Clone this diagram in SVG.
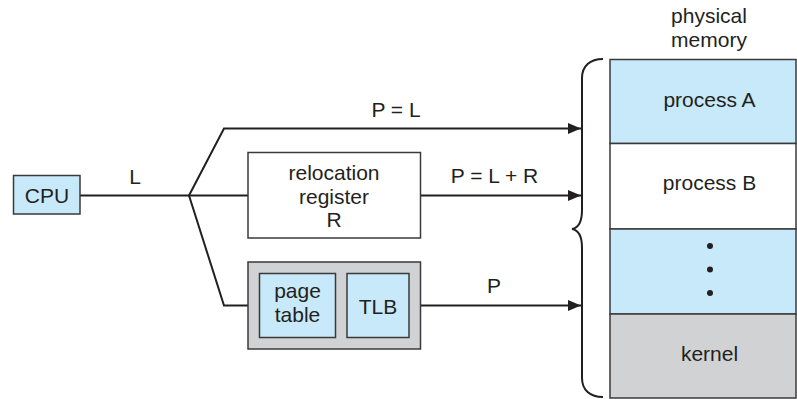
<svg xmlns="http://www.w3.org/2000/svg" width="797" height="399" viewBox="0 0 797 399">
<defs>
<style>
text{font-family:"Liberation Sans",Arial,Helvetica,sans-serif;font-size:21px;fill:#231f20;text-anchor:middle}
.blue{fill:#c7e9f9;stroke:#3a3a3a;stroke-width:1.5}
.gray{fill:#d1d2d4;stroke:#3a3a3a;stroke-width:1.5}
.white{fill:#fff;stroke:#3a3a3a;stroke-width:1.5}
.ln{fill:none;stroke:#231f20;stroke-width:2}
</style>
<marker id="ah" markerWidth="13" markerHeight="11" refX="13" refY="5.5" orient="auto" markerUnits="userSpaceOnUse">
<path d="M0,0 L13,5.5 L0,11 Z" fill="#231f20"/>
</marker>
</defs>
<g id="connectors">
<path class="ln" d="M80,195.5 H189"/>
<path class="ln" d="M189,195.5 L224,128.5 H581" marker-end="url(#ah)"/>
<path class="ln" d="M189,195.5 H248"/>
<path class="ln" d="M189,195.5 L224,305.5 H248"/>
<path class="ln" d="M421,195.5 H581" marker-end="url(#ah)"/>
<path class="ln" d="M421,305.5 H581" marker-end="url(#ah)"/>
<text x="135" y="184">L</text>
<text x="396" y="117">P = L</text>
<text x="494.5" y="183">P = L + R</text>
<text x="494" y="293">P</text>
</g>
<g id="cpu">
<rect class="blue" x="13.5" y="175.5" width="66.5" height="38.5"/>
<text x="47" y="203">CPU</text>
</g>
<g id="relocation">
<rect class="white" x="248" y="152.5" width="172.5" height="85.5"/>
<text x="334" y="179.5">relocation</text>
<text x="334" y="203.5">register</text>
<text x="334" y="226.5">R</text>
</g>
<g id="mmu">
<rect class="gray" x="248" y="262" width="172.5" height="87"/>
<rect class="blue" x="259.5" y="273.5" width="76" height="64"/>
<rect class="blue" x="347" y="273.5" width="62" height="64"/>
<text x="297.5" y="298">page</text>
<text x="297.5" y="322">table</text>
<text x="378" y="314">TLB</text>
</g>
<g id="memory">
<text x="709" y="23">physical</text>
<text x="709" y="46.5">memory</text>
<rect class="blue" x="610" y="59.5" width="186" height="84"/>
<rect class="white" x="610" y="143.5" width="186" height="85.5"/>
<rect class="blue" x="610" y="229" width="186" height="85"/>
<rect class="gray" x="610" y="314" width="186" height="84"/>
<text x="709.5" y="106.5">process A</text>
<text x="709.5" y="190">process B</text>
<text x="709.5" y="360.5">kernel</text>
<circle cx="710" cy="246" r="3" fill="#231f20"/>
<circle cx="710" cy="269.5" r="3" fill="#231f20"/>
<circle cx="710" cy="293" r="3" fill="#231f20"/>
</g>
<g id="braces">
<path class="ln" d="M603,59 C590,59 582,66 582,78 V210 C582,222 578,228 572,229"/>
<path class="ln" d="M572,229 C578,230 582,236 582,248 V378 C582,390 590,397 603,397"/>
</g>
</svg>
